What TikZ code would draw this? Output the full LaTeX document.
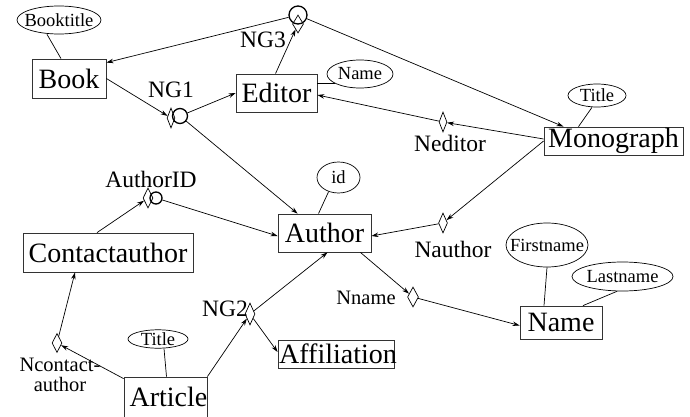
\documentclass[tikz,border=0pt]{standalone}
\usepackage{fontspec}
\setmainfont{Liberation Serif}
\usetikzlibrary{shapes.geometric,arrows.meta,calc}
\tikzset{
  ent/.style={draw=black!80,line width=0.8pt,rectangle,inner sep=0pt,font=\fontsize{28}{30}\selectfont},
  attr/.style={draw,line width=0.7pt,ellipse,inner sep=0pt,font=\fontsize{18.5}{20}\selectfont},
  rel/.style={draw,line width=0.7pt,diamond,inner sep=0pt,aspect=0.5},
  ring/.style={draw,line width=1.3pt,circle,inner sep=0pt},
  lbl/.style={inner sep=0pt,font=\fontsize{23.5}{25}\selectfont},
  arr/.style={line width=0.7pt,-{Stealth[length=7pt,width=4.5pt]}},
  att/.style={line width=0.7pt}
}
\newcommand{\zb}[1]{\makebox[0pt]{#1}}
\begin{document}
\begin{tikzpicture}[x=1pt,y=-1pt]
\useasboundingbox (0,0) rectangle (690,417);
% entities
\node[ent,minimum width=74pt,minimum height=39pt] (book) at (69,78.5) {\zb{Book}};
\node[ent,minimum width=81pt,minimum height=38pt] (editor) at (276.5,93) {\zb{Editor}};
\node[ent,minimum width=139pt,minimum height=28pt] (monograph) at (613.5,141) {\zb{Monograph}};
\node[ent,minimum width=93pt,minimum height=38pt] (author) at (324.5,233) {\zb{Author}};
\node[ent,minimum width=170pt,minimum height=39pt] (contact) at (108,252.5) {\zb{Contactauthor}};
\node[ent,minimum width=83pt,minimum height=40pt] (article) at (165.5,397) {\zb{\hspace{6pt}Article}};
\node[ent,minimum width=116pt,minimum height=28pt] (affil) at (336,354) {\zb{\hspace{4pt}Affiliation}};
\node[ent,minimum width=82pt,minimum height=33pt] (name) at (561,322.5) {\zb{Name}};
% attributes
\node[attr,minimum width=84pt,minimum height=28pt] (booktitle) at (59,20) {\zb{Booktitle}};
\node[attr,minimum width=66pt,minimum height=28pt] (ename) at (360,74) {\zb{Name}};
\node[attr,minimum width=58pt,minimum height=23pt] (mtitle) at (597,95.5) {\zb{Title}};
\node[attr,minimum width=43pt,minimum height=31pt] (id) at (338.5,177.5) {\zb{id}};
\node[attr,minimum width=60pt,minimum height=18pt] (atitle) at (158,339) {\zb{Title}};
\node[attr,minimum width=82pt,minimum height=44pt] (first) at (547,245) {\zb{Firstname}};
\node[attr,minimum width=101pt,minimum height=29pt] (last) at (622.5,276.5) {\zb{Lastname}};
% relationships
\node[rel,minimum width=11pt,minimum height=18pt] (dng3) at (298,24) {};
\node[ring,minimum size=18pt] (cng3) at (298,15) {};
\node[rel,minimum width=8pt,minimum height=20pt] (dng1) at (171,118) {};
\node[ring,minimum size=15pt] (cng1) at (180,116) {};
\node[rel,minimum width=10pt,minimum height=20pt] (daid) at (148,198) {};
\node[ring,minimum size=12pt] (caid) at (156,198) {};
\node[rel,minimum width=8pt,minimum height=20pt] (dned) at (443,122) {};
\node[rel,minimum width=9pt,minimum height=20pt] (dnau) at (443,223) {};
\node[rel,minimum width=11pt,minimum height=20pt] (dnname) at (413,297) {};
\node[rel,minimum width=10pt,minimum height=22pt] (dng2) at (250,314) {};
\node[rel,minimum width=10pt,minimum height=19pt] (dncon) at (57,343) {};
% labels
\node[lbl] (lng3) at (263,40) {NG3};
\node[lbl] (lng1) at (171,90) {NG1};
\node[lbl] (lned) at (450,143) {Neditor};
\node[lbl] (lnau) at (453,249) {Nauthor};
\node[lbl] (laid) at (151,179) {AuthorID};
\node[lbl] (lng2) at (225,309) {NG2};
\node[lbl,font=\fontsize{20.5}{22}\selectfont] (lnname) at (366,298) {Nname};
\node[lbl,align=center,font=\fontsize{20.5}{20}\selectfont] (lncon) at (60,375) {Ncontact-\\author};
% attribute links
\draw[att] ([xshift=-12pt]booktitle.south) -- ([xshift=-8pt]book.north);
\draw[att] (ename.200) -- (ename.200 -| editor.east);
\draw[att] ([xshift=-5pt]mtitle.south) -- ([xshift=-35pt]monograph.north);
\draw[att] (id.235) -- ([xshift=-6pt]author.north);
\draw[att] ([xshift=6pt]atitle.south) -- ([xshift=1pt]article.north);
\draw[att] (first.south) -- ([xshift=-17pt]name.north);
\draw[att] (last.250) -- ([xshift=22pt]name.north);
% relationship links
\draw[arr] (cng3) -- ([yshift=-4pt]book.north east);
\draw[arr] (cng3) -- ([xshift=-50pt]monograph.north);
\draw[arr] ([xshift=-1pt]editor.north) -- (dng3);
\draw[arr] ([yshift=0pt]book.east) -- (dng1);
\draw[arr] (cng1) -- (editor.west);
\draw[arr] (cng1) -- ([xshift=20pt]author.north west);
\draw[arr] (dned) -- ([yshift=-2pt]editor.east);
\draw[arr] ([yshift=2pt]monograph.west) -- (dned);
\draw[arr] (monograph.west) -- (dnau);
\draw[arr] (dnau) -- ([yshift=-3pt]author.east);
\draw[arr] ([xshift=-11pt]contact.north) -- (daid);
\draw[arr] (caid) -- ([yshift=-3pt]author.west);
\draw[arr] (dncon) -- ([xshift=-33pt]contact.south);
\draw[arr] ([yshift=-2pt]article.north west) -- (dncon);
\draw[arr] (article.north east) -- (dng2);
\draw[arr] (dng2) -- ([xshift=3pt]author.south);
\draw[arr] (dng2) -- ([yshift=2pt]affil.west);
\draw[arr] ([xshift=-11pt]author.south east) -- (dnname);
\draw[arr] (dnname) -- ([yshift=-3pt]name.west);
\end{tikzpicture}
\end{document}
